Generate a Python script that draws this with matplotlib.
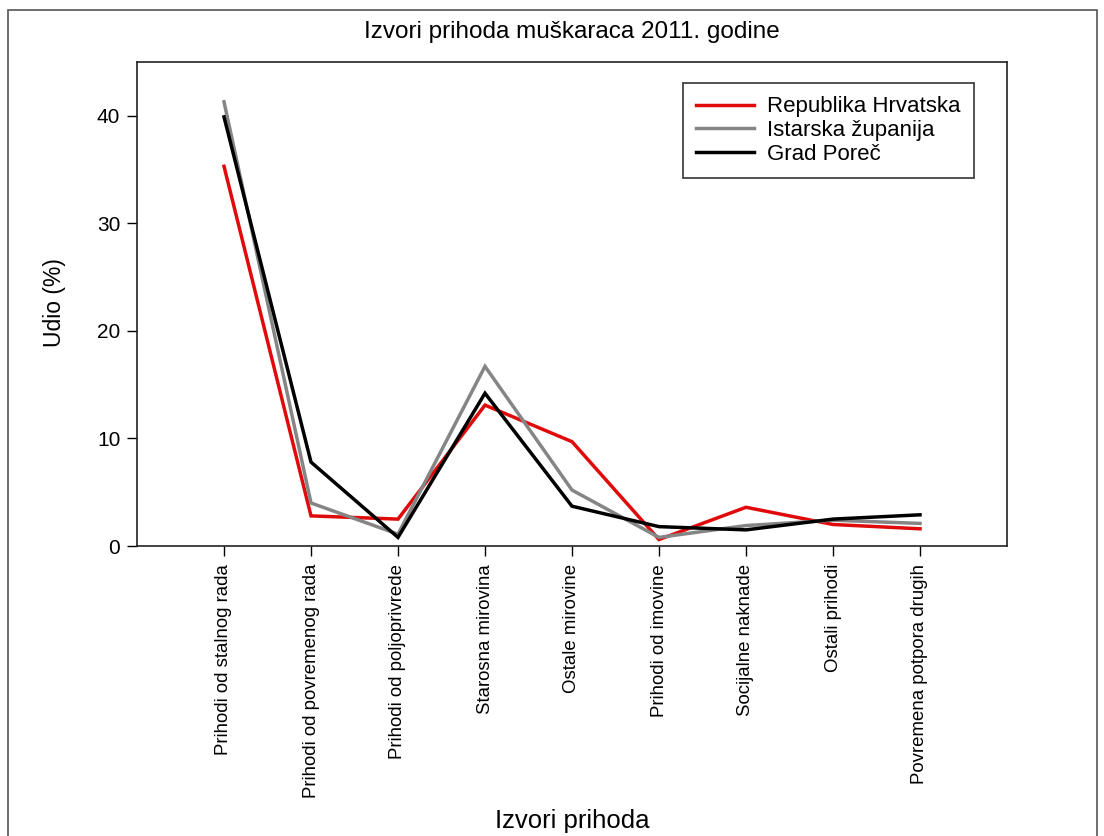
import matplotlib

matplotlib.use("Agg")

import matplotlib.pyplot as plt
from matplotlib.patches import Rectangle

plt.rcParams["font.family"] = ["Liberation Sans", "DejaVu Sans"]

categories = [
    "Prihodi od stalnog rada",
    "Prihodi od povremenog rada",
    "Prihodi od poljoprivrede",
    "Starosna mirovina",
    "Ostale mirovine",
    "Prihodi od imovine",
    "Socijalne naknade",
    "Ostali prihodi",
    "Povremena potpora drugih",
]
hrvatska = [35.3, 2.8, 2.5, 13.1, 9.7, 0.6, 3.6, 2.0, 1.6]
istra = [41.3, 4.0, 1.1, 16.7, 5.2, 0.8, 1.9, 2.4, 2.1]
porec = [39.9, 7.8, 0.8, 14.2, 3.7, 1.8, 1.5, 2.5, 2.9]
series_names = ["Republika Hrvatska", "Istarska županija", "Grad Poreč"]
y_ticks = [0, 10, 20, 30, 40]

RED = "#e00a0a"
GRAY = "#858585"
BLACK = "#000000"
W, H = 1104, 836

fig = plt.figure(figsize=(W / 100, H / 100), dpi=100)
ax = fig.add_axes([137 / W, 1 - 546 / H, (1007 - 137) / W, (546 - 62) / H])

x = list(range(1, len(categories) + 1))
for values, color, name in zip([hrvatska, istra, porec], [RED, GRAY, BLACK], series_names):
    ax.plot(x, values, color=color, linewidth=2.5, label=name, solid_joinstyle="miter")

ax.set_xlim(0, 10)
ax.set_ylim(0, 45)
ax.set_xticks(x, labels=categories, rotation=90, fontsize=13.4)
ax.set_yticks(y_ticks)
ax.tick_params(axis="y", labelsize=15, length=7, width=1, pad=5)
ax.tick_params(axis="x", length=7, width=1, pad=6)
for spine in ax.spines.values():
    spine.set_linewidth(1.2)
    spine.set_color("#222222")

fig.text(0.5 * (137 + 1007) / W, 1 - 32 / H, "Izvori prihoda muškaraca 2011. godine",
         fontsize=17.5, ha="center", va="center")
ax.set_ylabel("Udio (%)", fontsize=16.5)
ax.yaxis.set_label_coords(66 / W, 1 - 303 / H, transform=fig.transFigure)
ax.set_xlabel("Izvori prihoda", fontsize=18.5, va="top")
ax.xaxis.set_label_coords(0.5 * (137 + 1007) / W, 1 - 809 / H, transform=fig.transFigure)

leg = ax.legend(loc="upper right", bbox_to_anchor=(974 / W, 1 - 83 / H),
                bbox_transform=fig.transFigure, fontsize=16, frameon=True,
                fancybox=False, borderpad=0.6, handlelength=2.6, handletextpad=0.6,
                labelspacing=0.12, borderaxespad=0)
leg.get_frame().set_edgecolor("#000000")
leg.get_frame().set_linewidth(1.2)
for line in leg.get_lines():
    line.set_linewidth(2.5)

fig.patches.append(Rectangle((8 / W, -0.01), (1097 - 8) / W, 1.01 - 10 / H,
                             transform=fig.transFigure, fill=False,
                             edgecolor="#555555", linewidth=1.2))

fig.savefig("out.png", dpi=100, facecolor="white")
